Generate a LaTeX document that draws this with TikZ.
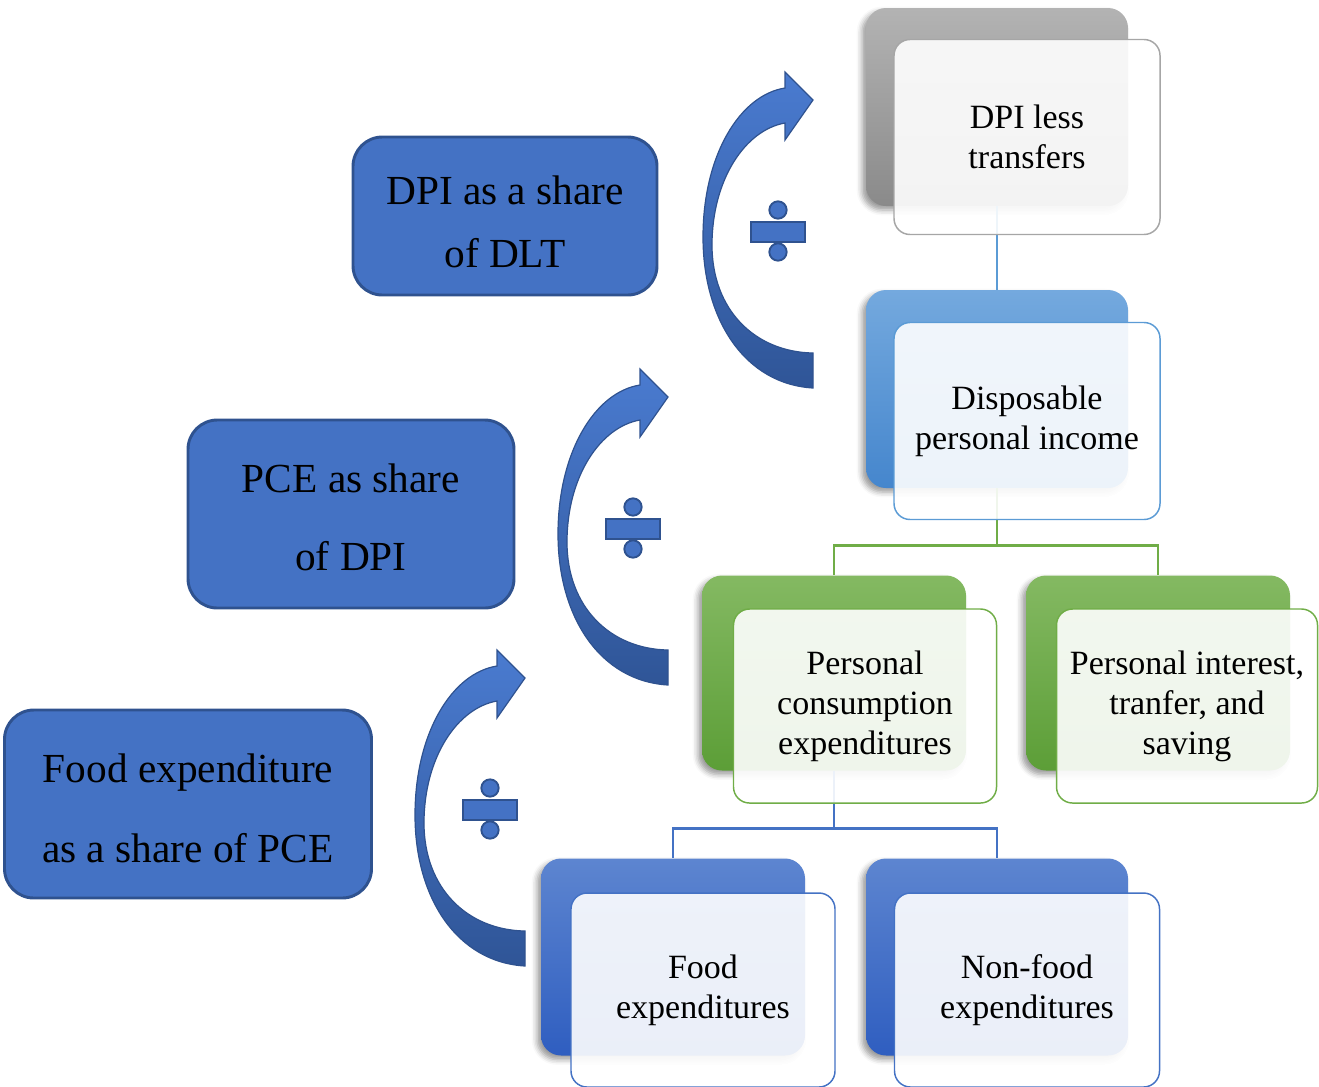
\documentclass[tikz,border=0pt]{standalone}
\usepackage{fontspec}
\setmainfont{Liberation Serif}
\usetikzlibrary{shadows,shadows.blur}
\definecolor{shfill}{HTML}{4472C4}
\definecolor{shdraw}{HTML}{2F528F}
\definecolor{arrtop}{HTML}{4A7BD0}
\definecolor{arrbot}{HTML}{2F5597}
\definecolor{graytop}{HTML}{B3B3B3}
\definecolor{graybot}{HTML}{8A8A8A}
\definecolor{grayline}{HTML}{A6A6A6}
\definecolor{ltbtop}{HTML}{74A9DE}
\definecolor{ltbbot}{HTML}{4586CD}
\definecolor{ltbline}{HTML}{5B9BD5}
\definecolor{grntop}{HTML}{84B962}
\definecolor{grnbot}{HTML}{5C9E37}
\definecolor{grnline}{HTML}{70AD47}
\definecolor{dkbtop}{HTML}{5D85D0}
\definecolor{dkbbot}{HTML}{2F5EC0}
\definecolor{dkbline}{HTML}{4472C4}
\begin{document}
\begin{tikzpicture}[x=0.75pt,y=-0.75pt,
  sharebox/.style={draw=shdraw, fill=shfill, line width=2.2pt, rounded corners=22pt,
    align=center, text=black, inner sep=0pt},
  bgbox/.style={rounded corners=15pt, inner sep=0pt,
    blur shadow={shadow xshift=-3pt, shadow yshift=-3pt, shadow blur radius=4pt, shadow opacity=40}},
  frontbox/.style={rounded corners=12pt, fill=white, fill opacity=0.9, text opacity=1,
    line width=1.1pt, align=center, inner sep=0pt,
    font=\fontsize{25.5}{30}\selectfont},
  conline/.style={line width=2.2pt},
  arrshape/.style={top color=arrtop, bottom color=arrbot, draw=shdraw, line width=0.9pt},
  divsign/.style={fill=shfill, draw=shdraw, line width=1.4pt},
  divarrow/.pic={
    \path[arrshape] (0,151) .. controls (-68,147) and (-110,83) .. (-110,0)
      .. controls (-110,-82) and (-73,-142) .. (-28,-149) -- (-28,-165) -- (0,-137)
      -- (-28,-97) -- (-28,-114) .. controls (-68,-107) and (-101,-57) .. (-101,8)
      .. controls (-101,73) and (-58,115) .. (0,116) -- cycle;
    \draw[divsign] (-62,-15) rectangle (-8,5);
    \draw[divsign] (-35,-27) circle[radius=6.5pt];
    \draw[divsign] (-35,15) circle[radius=6.5pt];
  }]
\useasboundingbox (0,0) rectangle (1319,1086);

% background boxes
\node[bgbox, top color=graytop, bottom color=graybot, minimum width=262*0.75pt, minimum height=198*0.75pt] (dltbg) at (997,107) {};
\node[bgbox, top color=ltbtop, bottom color=ltbbot, minimum width=262*0.75pt, minimum height=198*0.75pt] (dpibg) at (997,389) {};
\node[bgbox, top color=grntop, bottom color=grnbot, minimum width=264*0.75pt, minimum height=195*0.75pt] (pcebg) at (834,673) {};
\node[bgbox, top color=grntop, bottom color=grnbot, minimum width=264*0.75pt, minimum height=195*0.75pt] (pisbg) at (1158,673) {};
\node[bgbox, top color=dkbtop, bottom color=dkbbot, minimum width=264*0.75pt, minimum height=197*0.75pt] (foodbg) at (673,957) {};
\node[bgbox, top color=dkbtop, bottom color=dkbbot, minimum width=262*0.75pt, minimum height=197*0.75pt] (nfbg) at (997,957) {};

% connectors
\draw[conline, ltbline] (dltbg.south) -- (dpibg.north);
\draw[conline, grnline] (dpibg.south) -- ++(0,57) -| (pcebg.north);
\draw[conline, grnline] (dpibg.south) -- ++(0,57) -| (pisbg.north);
\draw[conline, dkbline] (pcebg.south) -- ++(0,58) -| (foodbg.north);
\draw[conline, dkbline] (pcebg.south) -- ++(0,58) -| (nfbg.north);

% front boxes
\node[frontbox, draw=grayline, minimum width=266*0.75pt, minimum height=195*0.75pt] (dlt) at (1027,137) {DPI less\\transfers};
\node[frontbox, draw=ltbline, minimum width=266*0.75pt, minimum height=197*0.75pt] (dpi) at (1027,421) {Disposable\\personal income};
\node[frontbox, draw=grnline, minimum width=263*0.75pt, minimum height=194*0.75pt] (pce) at (865,706) {Personal\\consumption\\expenditures};
\node[frontbox, draw=grnline, minimum width=261*0.75pt, minimum height=194*0.75pt] (pis) at (1187,706) {Personal interest,\\tranfer, and\\saving};
\node[frontbox, draw=dkbline, minimum width=264*0.75pt, minimum height=194*0.75pt] (food) at (703,990) {Food\\expenditures};
\node[frontbox, draw=dkbline, minimum width=265*0.75pt, minimum height=194*0.75pt] (nf) at (1027,990) {Non-food\\expenditures};

% share boxes
\node[sharebox, minimum width=304*0.75pt, minimum height=158*0.75pt] (s1) at (505,216) {};
\node[font=\fontsize{31}{47}\selectfont, align=center, inner sep=0pt] (s1t) at (505,222) {DPI as a share\\of DLT};
\node[sharebox, minimum width=326*0.75pt, minimum height=188*0.75pt] (s2) at (351,514) {};
\node[font=\fontsize{31}{58.5}\selectfont, align=center, inner sep=0pt] (s2t) at (351,517) {PCE as share\\of DPI};
\node[sharebox, minimum width=367*0.75pt, minimum height=188*0.75pt] (s3) at (188,804) {};
\node[font=\fontsize{31}{60}\selectfont, align=center, inner sep=0pt] (s3t) at (188,808) {Food expenditure\\as a share of PCE};

% curved arrows with division signs
\pic at (813,237) {divarrow};
\pic at (668,534) {divarrow};
\pic at (525,815) {divarrow};
\end{tikzpicture}
\end{document}
